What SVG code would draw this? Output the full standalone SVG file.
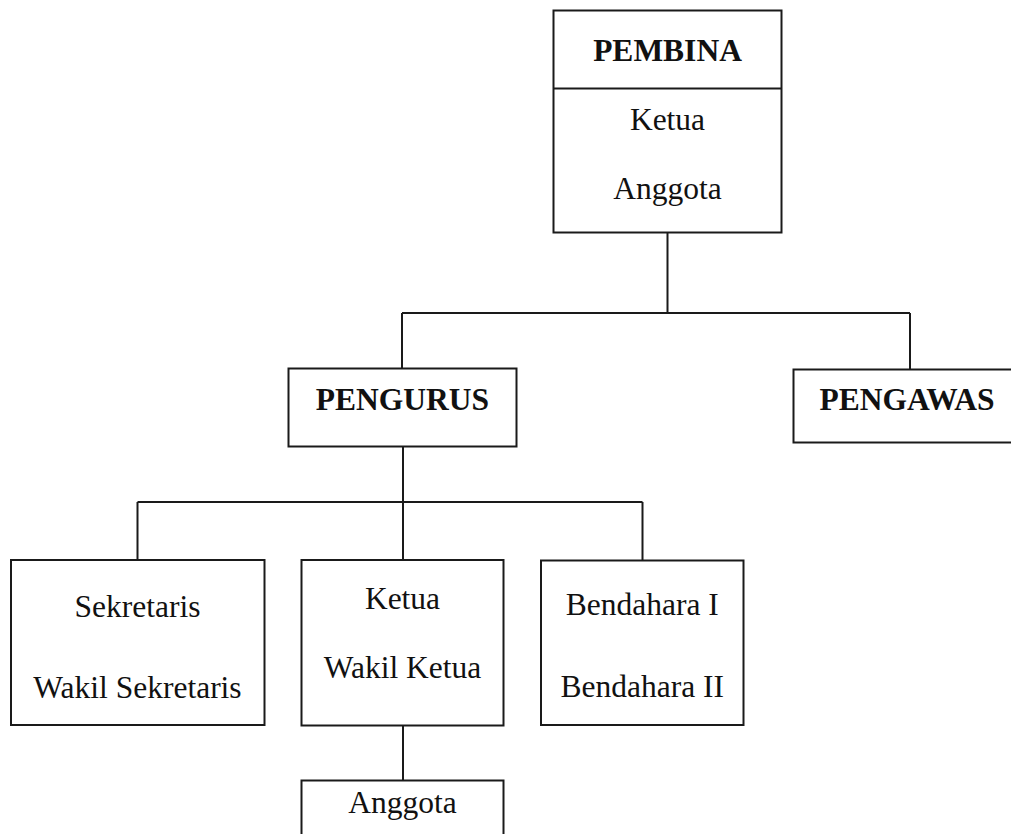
<svg xmlns="http://www.w3.org/2000/svg" width="1011" height="834" viewBox="0 0 1011 834">
<style>
.box{fill:#ffffff;stroke:#1a1a1a;stroke-width:2}
.ln{fill:none;stroke:#1a1a1a;stroke-width:2}
text{font-family:"Liberation Serif","Times New Roman",serif;font-size:31.5px;fill:#111;text-anchor:middle}
.b{font-weight:bold}
</style>
<rect width="1011" height="834" fill="#ffffff"/>
<g id="connectors">
<path class="ln" d="M667.5,232 V313 M402,313 H910 M402,313 V369 M910,313 V369"/>
<path class="ln" d="M403,447 V502 M137.5,502 H642.5 M137.5,502 V560 M403,502 V560 M642.5,502 V560"/>
<path class="ln" d="M403,726 V781"/>
</g>
<g id="pembina">
<rect class="box" x="553.5" y="10.5" width="228" height="222"/>
<line class="ln" x1="553.5" y1="88.5" x2="781.5" y2="88.5"/>
<text class="b" x="667.5" y="61">PEMBINA</text>
<text x="667.5" y="129.5">Ketua</text>
<text x="667.5" y="198.5">Anggota</text>
</g>
<g id="pengurus">
<rect class="box" x="288.5" y="368.5" width="228" height="78"/>
<text class="b" x="402.5" y="410">PENGURUS</text>
</g>
<g id="pengawas">
<rect class="box" x="793.5" y="369.5" width="228" height="73"/>
<text class="b" x="907" y="410">PENGAWAS</text>
</g>
<g id="sekretaris">
<rect class="box" x="11" y="560" width="253.5" height="165"/>
<text x="137.5" y="617">Sekretaris</text>
<text x="137.5" y="697.5">Wakil Sekretaris</text>
</g>
<g id="ketua">
<rect class="box" x="301.5" y="560" width="202" height="165.5"/>
<text x="402.5" y="608.5">Ketua</text>
<text x="402.5" y="677.5">Wakil Ketua</text>
</g>
<g id="bendahara">
<rect class="box" x="541" y="560.5" width="202.5" height="164.5"/>
<text x="642.3" y="615">Bendahara I</text>
<text x="642.3" y="697">Bendahara II</text>
</g>
<g id="anggota">
<rect class="box" x="301.5" y="780.5" width="202" height="70"/>
<text x="402.5" y="812.5">Anggota</text>
</g>
</svg>
